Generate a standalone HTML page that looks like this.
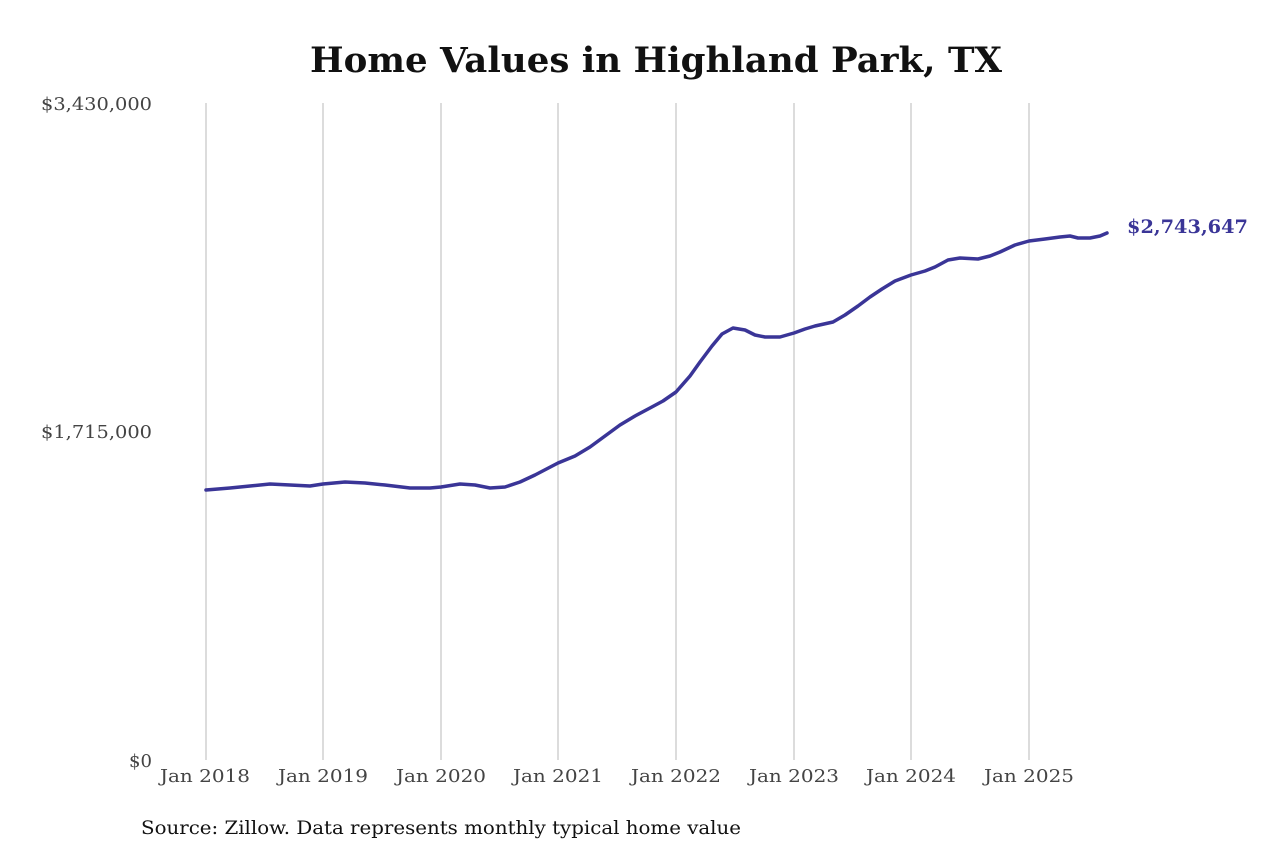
<!DOCTYPE html>
<html><head><meta charset="utf-8"><style>
html,body{margin:0;padding:0;background:#fff;}
body{width:1280px;height:853px;overflow:hidden;}
</style></head><body>
<svg width="1280" height="853" xmlns="http://www.w3.org/2000/svg" font-family="DejaVu Serif, Liberation Serif, serif">
<text x="310" y="72" textLength="692" lengthAdjust="spacingAndGlyphs" font-size="35" font-weight="bold" fill="#111">Home Values in Highland Park, TX</text>
<g stroke="#b8b8b8" stroke-width="1">
<line x1="206" y1="103" x2="206" y2="760"/>
<line x1="323" y1="103" x2="323" y2="760"/>
<line x1="441" y1="103" x2="441" y2="760"/>
<line x1="558" y1="103" x2="558" y2="760"/>
<line x1="676" y1="103" x2="676" y2="760"/>
<line x1="794" y1="103" x2="794" y2="760"/>
<line x1="911" y1="103" x2="911" y2="760"/>
<line x1="1029" y1="103" x2="1029" y2="760"/>
</g>
<g font-size="18" fill="#444">
<text x="41" y="110" textLength="111" lengthAdjust="spacingAndGlyphs">$3,430,000</text>
<text x="41" y="438" textLength="111" lengthAdjust="spacingAndGlyphs">$1,715,000</text>
<text x="129" y="767" textLength="23" lengthAdjust="spacingAndGlyphs">$0</text>
</g>
<g font-size="18" fill="#444">
<text x="160" y="782" textLength="90" lengthAdjust="spacingAndGlyphs">Jan 2018</text>
<text x="278" y="782" textLength="90" lengthAdjust="spacingAndGlyphs">Jan 2019</text>
<text x="396" y="782" textLength="90" lengthAdjust="spacingAndGlyphs">Jan 2020</text>
<text x="513" y="782" textLength="90" lengthAdjust="spacingAndGlyphs">Jan 2021</text>
<text x="631" y="782" textLength="90" lengthAdjust="spacingAndGlyphs">Jan 2022</text>
<text x="749" y="782" textLength="90" lengthAdjust="spacingAndGlyphs">Jan 2023</text>
<text x="866" y="782" textLength="90" lengthAdjust="spacingAndGlyphs">Jan 2024</text>
<text x="984" y="782" textLength="90" lengthAdjust="spacingAndGlyphs">Jan 2025</text>
</g>
<polyline fill="none" stroke="#3a3597" stroke-width="3.5" stroke-linejoin="round" stroke-linecap="round"
points="206,490 230,488 250,486 270,484 290,485 310,486 323,484 345,482 365,483 385,485 410,488 430,488 441,487 460,484 475,485 490,488 505,487 520,482 535,475 558,463 575,456 590,447 605,436 620,425 635,416 650,408 663,401 676,392 690,376 700,362 712,346 722,334 733,328 745,330 755,335 765,337 780,337 794,333 805,329 815,326 833,322 845,315 858,306 870,297 882,289 895,281 911,275 925,271 935,267 948,260 960,258 978,259 990,256 1000,252 1015,245 1029,241 1045,239 1060,237 1070,236 1078,238 1090,238 1100,236 1107,233"/>
<text x="1127" y="233" textLength="121" lengthAdjust="spacingAndGlyphs" font-size="19" font-weight="bold" fill="#3a3597">$2,743,647</text>
<text x="141" y="834" textLength="600" lengthAdjust="spacingAndGlyphs" font-size="19" fill="#111">Source: Zillow. Data represents monthly typical home value</text>
</svg>
</body></html>
